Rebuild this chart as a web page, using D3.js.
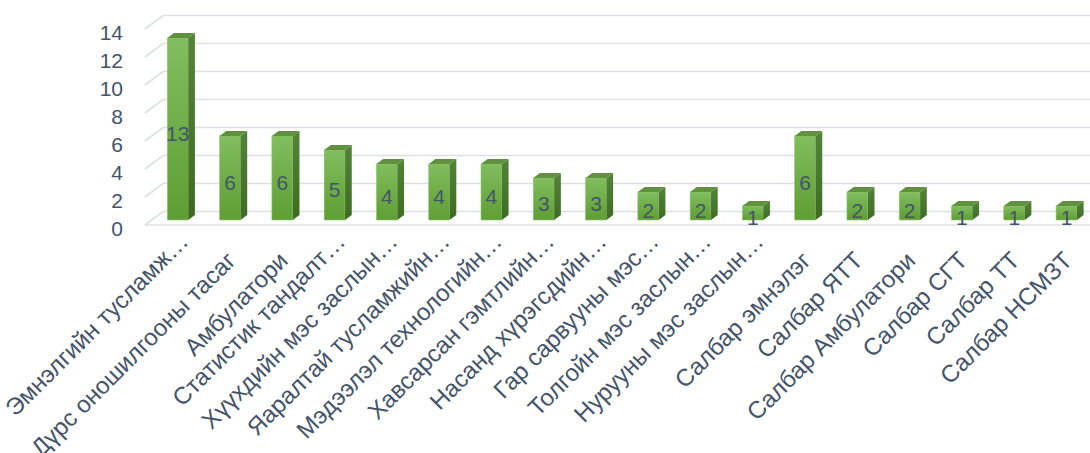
<!DOCTYPE html>
<html>
<head>
<meta charset="utf-8">
<script src="https://cdn.jsdelivr.net/npm/d3@7"></script>
<style>
  body { margin: 0; background: #fff; }
  text { font-family: "Liberation Sans", Arial, sans-serif; fill: #44546A; }
</style>
</head>
<body>
<div id="canvas"></div>
<script>
var categories = [
    "Эмнэлгийн тусламж…",
    "Дүрс оношилгооны тасаг",
    "Амбулатори",
    "Статистик тандалт…",
    "Хүүхдийн мэс заслын…",
    "Яаралтай тусламжийн…",
    "Мэдээлэл технологийн…",
    "Хавсарсан гэмтлийн…",
    "Насанд хүрэгсдийн…",
    "Гар сарвууны мэс…",
    "Толгойн мэс заслын…",
    "Нурууны  мэс заслын…",
    "Салбар эмнэлэг",
    "Салбар ЯТТ",
    "Салбар Амбулатори",
    "Салбар СГТ",
    "Салбар ТТ",
    "Салбар НСМЗТ"
]
var values = [13, 6, 6, 5, 4, 4, 4, 3, 3, 2, 2, 1, 6, 2, 2, 1, 1, 1]
var yTicks = [0, 2, 4, 6, 8, 10, 12, 14]

var width = 1090
var height = 453

// depth of the 3d floor / walls
var depthX = 18
var depthY = -13.5
// bars sit in the middle of the depth
var barFront = 0.37
var barBack = 0.74

var svg = d3.select("#canvas")
    .append("svg")
    .attr("width", width)
    .attr("height", height)

var defs = svg.append("defs")
var gFront = defs.append("linearGradient").attr("id", "front").attr("x1", 0).attr("y1", 0).attr("x2", 0).attr("y2", 1)
gFront.append("stop").attr("offset", "0%").attr("stop-color", "#81BD5E")
gFront.append("stop").attr("offset", "100%").attr("stop-color", "#5E9E33")
var gSide = defs.append("linearGradient").attr("id", "side").attr("x1", 0).attr("y1", 0).attr("x2", 0).attr("y2", 1)
gSide.append("stop").attr("offset", "0%").attr("stop-color", "#52843A")
gSide.append("stop").attr("offset", "100%").attr("stop-color", "#3E6B22")

// scales on the front plane
var xScale = d3.scaleBand()
    .domain(categories)
    .range([145, 1086])
    .paddingInner(0.6)
    .paddingOuter(0.3)

var yScale = d3.scaleLinear()
    .domain([0, 14])
    .range([225, 29])

// walls and gridlines
var grid = svg.append("g").attr("class", "grid")
grid.selectAll(".wall")
    .data(yTicks)
    .enter()
    .append("path")
    .attr("fill", "none")
    .attr("stroke", "#DCDFE3")
    .attr("stroke-width", 1.6)
    .attr("d", function (d) {
        var y = yScale(d)
        return "M145," + y + "L" + (145 + depthX) + "," + (y + depthY) + "L" + width + "," + (y + depthY)
    })

// front edge of the floor
grid.append("line")
    .attr("x1", 145)
    .attr("x2", width)
    .attr("y1", yScale(0))
    .attr("y2", yScale(0))
    .attr("stroke", "#DCDFE3")
    .attr("stroke-width", 1.6)

// y axis labels
svg.append("g")
    .selectAll("text")
    .data(yTicks)
    .enter()
    .append("text")
    .attr("x", 123)
    .attr("y", function (d) { return yScale(d) + 3 })
    .attr("text-anchor", "end")
    .attr("dominant-baseline", "central")
    .style("font-size", "21px")
    .text(function (d) { return d })

// bars
var bw = xScale.bandwidth()
var fx = depthX * barFront, fy = depthY * barFront
var sx = depthX * (barBack - barFront), sy = depthY * (barBack - barFront)

var bars = svg.selectAll(".bar")
    .data(values)
    .enter()
    .append("g")
    .attr("class", "bar")

bars.append("rect")
    .attr("x", function (d, i) { return xScale(categories[i]) + fx })
    .attr("y", function (d) { return yScale(d) + fy })
    .attr("width", bw)
    .attr("height", function (d) { return yScale(0) - yScale(d) })
    .attr("fill", "url(#front)")
    .attr("stroke", "#8FC76E")
    .attr("stroke-width", 0.6)

bars.append("path")
    .attr("fill", "url(#side)")
    .attr("d", function (d, i) {
        var x = xScale(categories[i]) + fx + bw
        var y0 = yScale(0) + fy, y1 = yScale(d) + fy
        return "M" + x + "," + y1 + "L" + (x + sx) + "," + (y1 + sy) + "L" + (x + sx) + "," + (y0 + sy) + "L" + x + "," + y0 + "Z"
    })

bars.append("path")
    .attr("fill", "#5F913E")
    .attr("d", function (d, i) {
        var x = xScale(categories[i]) + fx
        var y = yScale(d) + fy
        return "M" + x + "," + y + "L" + (x + sx) + "," + (y + sy) + "L" + (x + bw + sx) + "," + (y + sy) + "L" + (x + bw) + "," + y + "Z"
    })

// data labels
bars.append("text")
    .attr("x", function (d, i) { return xScale(categories[i]) + fx + bw / 2 })
    .attr("y", function (d) { return (yScale(d) + yScale(0)) / 2 + fy + 4 })
    .attr("text-anchor", "middle")
    .attr("dominant-baseline", "central")
    .style("font-size", "21px")
    .text(function (d) { return d })

// category labels - truncated ones sit half a line higher (excel wraps them)
svg.append("g")
    .selectAll("text")
    .data(categories)
    .enter()
    .append("text")
    .attr("transform", function (d) {
        var cx = xScale(d) + bw / 2 + fx
        var cut = d.slice(-1) == "…"
        return "translate(" + (cx + (cut ? 12 : 7)) + "," + (cut ? 243 : 262) + ") rotate(-45)"
    })
    .attr("text-anchor", "end")
    .style("font-size", "24px")
    .text(function (d) { return d })
</script>
</body>
</html>
